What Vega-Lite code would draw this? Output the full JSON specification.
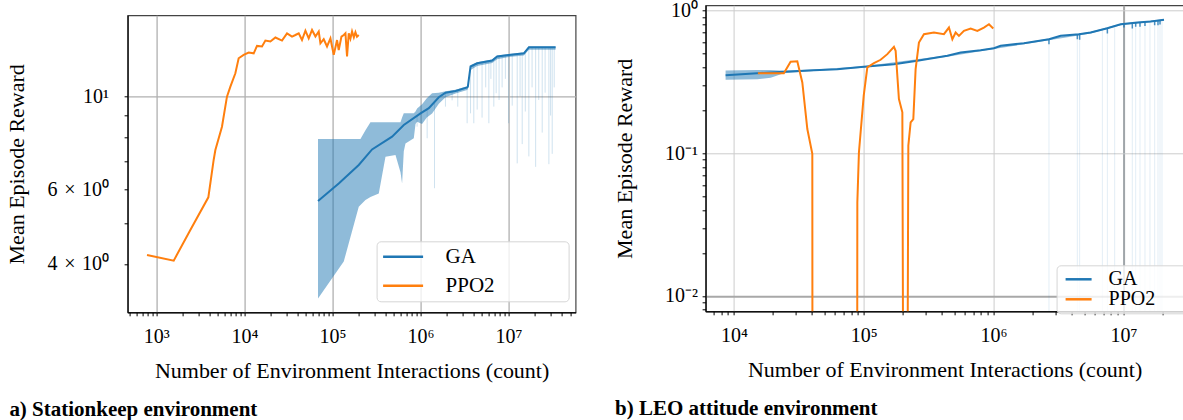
{
  "$schema": "https://vega.github.io/schema/vega-lite/v6.json",
  "background": "white",
  "padding": {"left": 4.6, "top": -0.7, "right": 0, "bottom": 0},
  "spacing": 36,
  "config": {
    "font": "Liberation Serif",
    "view": {"stroke": "#444", "strokeWidth": 1.2},
    "axis": {
      "labelFont": "Liberation Serif", "labelFontSize": 20, "labelColor": "#000",
      "titleFont": "Liberation Serif", "titleFontSize": 22, "titleFontWeight": "normal", "titleColor": "#000",
      "domainColor": "#000", "domainWidth": 1.2, "tickColor": "#000", "tickWidth": 1, "tickSize": 3.5,
      "labelOverlap": false, "labelFlush": false, "labelBound": false
    },
    "legend": {"labelFont": "Liberation Serif", "labelColor": "#000"}
  },
  "datasets": {
    "leftLine": [
      {"x": 68600, "y": 5.64, "s": "GA"}, {"x": 117900, "y": 6.21, "s": "GA"}, {"x": 199000, "y": 6.87, "s": "GA"}, {"x": 281800, "y": 7.48, "s": "GA"}, {"x": 475700, "y": 8.02, "s": "GA"}, {"x": 645900, "y": 8.55, "s": "GA"}, {"x": 1000000, "y": 9.11, "s": "GA"}, {"x": 1243000, "y": 9.37, "s": "GA"}, {"x": 1614000, "y": 9.95, "s": "GA"}, {"x": 1924000, "y": 10.2, "s": "GA"}, {"x": 2498000, "y": 10.29, "s": "GA"}, {"x": 3385000, "y": 10.5, "s": "GA"}, {"x": 3448000, "y": 10.54, "s": "GA"}, {"x": 3700000, "y": 11.77, "s": "GA"}, {"x": 4397000, "y": 11.98, "s": "GA"}, {"x": 6510000, "y": 12.16, "s": "GA"}, {"x": 7420000, "y": 12.43, "s": "GA"}, {"x": 10080000, "y": 12.54, "s": "GA"}, {"x": 14920000, "y": 12.65, "s": "GA"}, {"x": 17010000, "y": 13.07, "s": "GA"}, {"x": 34200000, "y": 13.07, "s": "GA"},
      {"x": 784, "y": 4.198, "s": "PPO2"}, {"x": 1576, "y": 4.072, "s": "PPO2"}, {"x": 2434, "y": 4.813, "s": "PPO2"}, {"x": 3898, "y": 5.756, "s": "PPO2"}, {"x": 4479, "y": 7.06, "s": "PPO2"}, {"x": 4683, "y": 7.455, "s": "PPO2"}, {"x": 5566, "y": 8.47, "s": "PPO2"}, {"x": 6342, "y": 9.98, "s": "PPO2"}, {"x": 6935, "y": 10.54, "s": "PPO2"}, {"x": 7900, "y": 11.34, "s": "PPO2"}, {"x": 8612, "y": 12.31, "s": "PPO2"}, {"x": 9817, "y": 12.54, "s": "PPO2"}, {"x": 11190, "y": 12.7, "s": "PPO2"}, {"x": 12760, "y": 12.65, "s": "PPO2"}, {"x": 13910, "y": 13.17, "s": "PPO2"}, {"x": 15850, "y": 13.13, "s": "PPO2"}, {"x": 17320, "y": 13.56, "s": "PPO2"}, {"x": 19750, "y": 13.49, "s": "PPO2"}, {"x": 22510, "y": 13.79, "s": "PPO2"}, {"x": 26750, "y": 13.56, "s": "PPO2"}, {"x": 30490, "y": 14.11, "s": "PPO2"}, {"x": 34750, "y": 13.86, "s": "PPO2"}, {"x": 37970, "y": 13.98, "s": "PPO2"}, {"x": 41400, "y": 14.11, "s": "PPO2"}, {"x": 45120, "y": 13.6, "s": "PPO2"}, {"x": 49340, "y": 14.32, "s": "PPO2"}, {"x": 53790, "y": 13.73, "s": "PPO2"}, {"x": 58640, "y": 14.37, "s": "PPO2"}, {"x": 64110, "y": 13.86, "s": "PPO2"}, {"x": 69880, "y": 14.25, "s": "PPO2"}, {"x": 73050, "y": 13.36, "s": "PPO2"}, {"x": 79630, "y": 13.66, "s": "PPO2"}, {"x": 86800, "y": 13.13, "s": "PPO2"}, {"x": 94910, "y": 13.73, "s": "PPO2"}, {"x": 98970, "y": 13.13, "s": "PPO2"}, {"x": 103500, "y": 12.54, "s": "PPO2"}, {"x": 112800, "y": 13.6, "s": "PPO2"}, {"x": 117900, "y": 12.88, "s": "PPO2"}, {"x": 126600, "y": 13.86, "s": "PPO2"}, {"x": 134400, "y": 13.98, "s": "PPO2"}, {"x": 140500, "y": 14.11, "s": "PPO2"}, {"x": 146500, "y": 12.43, "s": "PPO2"}, {"x": 153200, "y": 14.11, "s": "PPO2"}, {"x": 160000, "y": 13.7, "s": "PPO2"}, {"x": 167000, "y": 14.25, "s": "PPO2"}, {"x": 175000, "y": 13.8, "s": "PPO2"}, {"x": 182500, "y": 14.2, "s": "PPO2"}, {"x": 190000, "y": 13.85, "s": "PPO2"}, {"x": 199000, "y": 13.98, "s": "PPO2"}
    ],
    "leftBand": [
      {"x": 68600, "lo": 3.31, "hi": 7.92}, {"x": 134400, "lo": 4.05, "hi": 7.92}, {"x": 199000, "lo": 5.47, "hi": 7.92}, {"x": 208000, "lo": 5.52, "hi": 7.92}, {"x": 237100, "lo": 5.67, "hi": 8.3}, {"x": 270300, "lo": 5.77, "hi": 8.68}, {"x": 335900, "lo": 5.88, "hi": 8.68}, {"x": 400200, "lo": 7.19, "hi": 8.68}, {"x": 519900, "lo": 7.25, "hi": 8.68}, {"x": 592600, "lo": 6.6, "hi": 8.68}, {"x": 617900, "lo": 6.21, "hi": 8.9}, {"x": 645900, "lo": 7.4, "hi": 9.11}, {"x": 675300, "lo": 7.73, "hi": 9.11}, {"x": 839200, "lo": 7.95, "hi": 9.11}, {"x": 877500, "lo": 8.6, "hi": 9.2}, {"x": 915000, "lo": 8.7, "hi": 9.35}, {"x": 1042000, "lo": 8.6, "hi": 9.57}, {"x": 1179000, "lo": 8.9, "hi": 9.9}, {"x": 1354000, "lo": 9.1, "hi": 10.17}, {"x": 1614000, "lo": 9.6, "hi": 10.2}, {"x": 1924000, "lo": 9.95, "hi": 10.28}, {"x": 2498000, "lo": 10.15, "hi": 10.36}, {"x": 3385000, "lo": 10.35, "hi": 10.56}, {"x": 3448000, "lo": 10.4, "hi": 10.6}, {"x": 3700000, "lo": 11.55, "hi": 11.85}, {"x": 4397000, "lo": 11.8, "hi": 12.05}, {"x": 6510000, "lo": 12.0, "hi": 12.22}, {"x": 7420000, "lo": 12.25, "hi": 12.5}, {"x": 10080000, "lo": 12.4, "hi": 12.6}, {"x": 14920000, "lo": 12.5, "hi": 12.7}, {"x": 17010000, "lo": 12.9, "hi": 13.12}, {"x": 34200000, "lo": 12.9, "hi": 13.12}
    ],
    "leftSpikes": [
      {"x": 915000, "lo": 8.47, "hi": 9.0}, {"x": 1190000, "lo": 7.95, "hi": 9.3}, {"x": 1442000, "lo": 6.05, "hi": 9.7}, {"x": 1920000, "lo": 9.45, "hi": 10.2}, {"x": 2286000, "lo": 9.78, "hi": 10.27}, {"x": 2650000, "lo": 9.45, "hi": 10.32}, {"x": 3385000, "lo": 8.63, "hi": 10.5}, {"x": 3700000, "lo": 9.11, "hi": 11.77}, {"x": 4030000, "lo": 8.63, "hi": 11.9}, {"x": 4400000, "lo": 9.3, "hi": 11.98}, {"x": 5000000, "lo": 8.9, "hi": 12.05}, {"x": 5500000, "lo": 10.5, "hi": 12.1}, {"x": 5970000, "lo": 8.63, "hi": 12.12}, {"x": 6300000, "lo": 11.0, "hi": 12.15}, {"x": 6800000, "lo": 9.45, "hi": 12.2}, {"x": 7230000, "lo": 10.17, "hi": 12.4}, {"x": 7800000, "lo": 9.8, "hi": 12.45}, {"x": 8450000, "lo": 10.5, "hi": 12.5}, {"x": 9200000, "lo": 11.0, "hi": 12.52}, {"x": 10000000, "lo": 8.63, "hi": 12.54}, {"x": 11000000, "lo": 9.5, "hi": 12.58}, {"x": 12530000, "lo": 6.93, "hi": 12.6}, {"x": 13500000, "lo": 10.0, "hi": 12.62}, {"x": 14290000, "lo": 7.7, "hi": 12.63}, {"x": 15500000, "lo": 9.2, "hi": 12.7}, {"x": 17000000, "lo": 7.2, "hi": 13.07}, {"x": 18500000, "lo": 10.5, "hi": 13.07}, {"x": 20300000, "lo": 6.8, "hi": 13.07}, {"x": 22000000, "lo": 9.8, "hi": 13.07}, {"x": 24100000, "lo": 8.2, "hi": 13.07}, {"x": 26000000, "lo": 10.2, "hi": 13.07}, {"x": 28700000, "lo": 6.9, "hi": 13.07}, {"x": 30000000, "lo": 9.0, "hi": 13.07}, {"x": 31300000, "lo": 7.3, "hi": 13.07}, {"x": 33000000, "lo": 10.5, "hi": 13.07}
    ],
    "rightLine": [
      {"x": 8630, "y": 0.3528, "s": "GA"}, {"x": 15140, "y": 0.3642, "s": "GA"}, {"x": 24250, "y": 0.3726, "s": "GA"}, {"x": 41330, "y": 0.3824, "s": "GA"}, {"x": 62600, "y": 0.3886, "s": "GA"}, {"x": 100000, "y": 0.4039, "s": "GA"}, {"x": 170900, "y": 0.4211, "s": "GA"}, {"x": 258800, "y": 0.4447, "s": "GA"}, {"x": 440600, "y": 0.4821, "s": "GA"}, {"x": 558000, "y": 0.5083, "s": "GA"}, {"x": 795500, "y": 0.5277, "s": "GA"}, {"x": 1007000, "y": 0.5449, "s": "GA"}, {"x": 1134000, "y": 0.5663, "s": "GA"}, {"x": 1715000, "y": 0.5906, "s": "GA"}, {"x": 2672000, "y": 0.63, "s": "GA"}, {"x": 3289000, "y": 0.6652, "s": "GA"}, {"x": 4549000, "y": 0.6827, "s": "GA"}, {"x": 5598000, "y": 0.7019, "s": "GA"}, {"x": 7528000, "y": 0.7519, "s": "GA"}, {"x": 9530000, "y": 0.8021, "s": "GA"}, {"x": 12820000, "y": 0.8243, "s": "GA"}, {"x": 16230000, "y": 0.8378, "s": "GA"}, {"x": 20550000, "y": 0.861, "s": "GA"},
      {"x": 15300, "y": 0.3642, "s": "PPO2"}, {"x": 24250, "y": 0.3642, "s": "PPO2"}, {"x": 27340, "y": 0.4378, "s": "PPO2"}, {"x": 30790, "y": 0.4418, "s": "PPO2"}, {"x": 33650, "y": 0.3136, "s": "PPO2"}, {"x": 36780, "y": 0.1479, "s": "PPO2"}, {"x": 40180, "y": 0.0989, "s": "PPO2"}, {"x": 40300, "y": 0.001, "s": "PPO2"}, {"x": 89000, "y": 0.001, "s": "PPO2"}, {"x": 89290, "y": 0.0454, "s": "PPO2"}, {"x": 91850, "y": 0.1016, "s": "PPO2"}, {"x": 100000, "y": 0.2532, "s": "PPO2"}, {"x": 106600, "y": 0.3993, "s": "PPO2"}, {"x": 119900, "y": 0.428, "s": "PPO2"}, {"x": 134950, "y": 0.452, "s": "PPO2"}, {"x": 152000, "y": 0.495, "s": "PPO2"}, {"x": 170900, "y": 0.5574, "s": "PPO2"}, {"x": 176100, "y": 0.5229, "s": "PPO2"}, {"x": 186700, "y": 0.2397, "s": "PPO2"}, {"x": 198400, "y": 0.1935, "s": "PPO2"}, {"x": 201800, "y": 0.001, "s": "PPO2"}, {"x": 216700, "y": 0.001, "s": "PPO2"}, {"x": 220600, "y": 0.1132, "s": "PPO2"}, {"x": 229800, "y": 0.1647, "s": "PPO2"}, {"x": 241000, "y": 0.1737, "s": "PPO2"}, {"x": 251000, "y": 0.3886, "s": "PPO2"}, {"x": 266200, "y": 0.5973, "s": "PPO2"}, {"x": 290900, "y": 0.683, "s": "PPO2"}, {"x": 347300, "y": 0.7019, "s": "PPO2"}, {"x": 414800, "y": 0.683, "s": "PPO2"}, {"x": 453400, "y": 0.7604, "s": "PPO2"}, {"x": 481600, "y": 0.63, "s": "PPO2"}, {"x": 510500, "y": 0.7019, "s": "PPO2"}, {"x": 541300, "y": 0.665, "s": "PPO2"}, {"x": 591500, "y": 0.7213, "s": "PPO2"}, {"x": 666300, "y": 0.7483, "s": "PPO2"}, {"x": 750400, "y": 0.7213, "s": "PPO2"}, {"x": 843000, "y": 0.7604, "s": "PPO2"}, {"x": 921800, "y": 0.802, "s": "PPO2"}, {"x": 995000, "y": 0.7483, "s": "PPO2"}
    ],
    "rightBand": [
      {"x": 8630, "lo": 0.3275, "hi": 0.38}, {"x": 15140, "lo": 0.33, "hi": 0.383}, {"x": 19200, "lo": 0.338, "hi": 0.383}, {"x": 24250, "lo": 0.364, "hi": 0.379}, {"x": 41330, "lo": 0.377, "hi": 0.387}, {"x": 100000, "lo": 0.398, "hi": 0.408}, {"x": 440600, "lo": 0.475, "hi": 0.487}, {"x": 1007000, "lo": 0.537, "hi": 0.551}, {"x": 2672000, "lo": 0.62, "hi": 0.637}, {"x": 5598000, "lo": 0.69, "hi": 0.71}, {"x": 9530000, "lo": 0.79, "hi": 0.81}, {"x": 20550000, "lo": 0.848, "hi": 0.87}
    ],
    "rightSpikes": [
      {"x": 2672000, "lo": 0.001, "hi": 0.63}, {"x": 4420000, "lo": 0.001, "hi": 0.68}, {"x": 4605000, "lo": 0.001, "hi": 0.683}, {"x": 6890000, "lo": 0.001, "hi": 0.73}, {"x": 7530000, "lo": 0.001, "hi": 0.75}, {"x": 8570000, "lo": 0.001, "hi": 0.78}, {"x": 10110000, "lo": 0.001, "hi": 0.8}, {"x": 11720000, "lo": 0.001, "hi": 0.81}, {"x": 12440000, "lo": 0.001, "hi": 0.82}, {"x": 13430000, "lo": 0.001, "hi": 0.826}, {"x": 14670000, "lo": 0.001, "hi": 0.83}, {"x": 16030000, "lo": 0.001, "hi": 0.837}, {"x": 17420000, "lo": 0.001, "hi": 0.845}, {"x": 18480000, "lo": 0.001, "hi": 0.85}, {"x": 19150000, "lo": 0.001, "hi": 0.855}, {"x": 19840000, "lo": 0.001, "hi": 0.86}
    ],
    "rightDips": [
      {"x": 2672000, "lo": 0.58, "hi": 0.63}, {"x": 4420000, "lo": 0.63, "hi": 0.68}, {"x": 4605000, "lo": 0.625, "hi": 0.683}, {"x": 7530000, "lo": 0.69, "hi": 0.75}, {"x": 10110000, "lo": 0.76, "hi": 0.8}, {"x": 11720000, "lo": 0.75, "hi": 0.81}, {"x": 12440000, "lo": 0.77, "hi": 0.82}, {"x": 13430000, "lo": 0.77, "hi": 0.826}, {"x": 14670000, "lo": 0.78, "hi": 0.83}, {"x": 17420000, "lo": 0.79, "hi": 0.845}, {"x": 18480000, "lo": 0.79, "hi": 0.85}, {"x": 19150000, "lo": 0.8, "hi": 0.855}
    ],
    "empty": []
  },
  "hconcat": [
    {
      "title": {"text": "a) Stationkeep environment", "orient": "bottom", "anchor": "start", "frame": "bounds", "font": "Liberation Serif", "fontSize": 21, "fontWeight": "bold", "color": "#000", "offset": 17, "dx": 4},
      "spacing": 0,
      "vconcat": [
        {
          "width": 448,
          "height": 9,
          "view": {"stroke": null},
          "data": {"name": "empty"},
          "mark": "point"
        },
        {
          "width": 448,
          "height": 297,
          "layer": [
            {
              "data": {"name": "leftBand"},
              "mark": {"type": "area", "color": "#1f77b4", "opacity": 0.5, "clip": true},
              "encoding": {
                "x": {"field": "x", "type": "quantitative", "scale": {"type": "log", "domain": [472, 57700000], "nice": false},
                  "axis": {"title": "Number of Environment Interactions (count)", "values": [500,600,700,800,900,1000,2000,3000,4000,5000,6000,7000,8000,9000,10000,20000,30000,40000,50000,60000,70000,80000,90000,100000,200000,300000,400000,500000,600000,700000,800000,900000,1000000,2000000,3000000,4000000,5000000,6000000,7000000,8000000,9000000,10000000,20000000,30000000,40000000,50000000],
                    "labelExpr": "datum.value===1000?'10³':datum.value===10000?'10⁴':datum.value===100000?'10⁵':datum.value===1000000?'10⁶':datum.value===10000000?'10⁷':''",
                    "gridOpacity": {"condition": {"test": "indexof([1000,10000,100000,1000000,10000000], datum.value) >= 0", "value": 1}, "value": 0},
                    "grid": true, "gridColor": "#b0b0b0", "gridWidth": 1.3, "labelPadding": 11, "titlePadding": 14}},
                "y": {"field": "lo", "type": "quantitative", "scale": {"type": "log", "domain": [3.07, 15.57], "nice": false},
                  "axis": {"title": "Mean Episode Reward", "values": [4,5,6,7,8,9,10],
                    "labelExpr": "datum.value===4?'4\u2004×\u200410⁰':datum.value===6?'6\u2004×\u200410⁰':datum.value===10?'10¹':''",
                    "gridOpacity": {"condition": {"test": "datum.value===10", "value": 1}, "value": 0},
                    "grid": true, "gridColor": "#b0b0b0", "gridWidth": 1.3, "labelPadding": 15.5, "titlePadding": 18}},
                "y2": {"field": "hi"}
              }
            },
            {
              "data": {"name": "leftSpikes"},
              "mark": {"type": "rule", "color": "#1f77b4", "opacity": 0.22, "strokeWidth": 1, "clip": true},
              "encoding": {
                "x": {"field": "x", "type": "quantitative", "scale": {"type": "log", "domain": [472, 57700000], "nice": false}, "title": "Number of Environment Interactions (count)"},
                "y": {"field": "lo", "type": "quantitative", "scale": {"type": "log", "domain": [3.07, 15.57], "nice": false}, "title": "Mean Episode Reward"},
                "y2": {"field": "hi"}
              }
            },
            {
              "data": {"name": "leftLine"},
              "mark": {"type": "line", "strokeWidth": 2, "clip": true},
              "encoding": {
                "x": {"field": "x", "type": "quantitative", "scale": {"type": "log", "domain": [472, 57700000], "nice": false}, "title": "Number of Environment Interactions (count)"},
                "y": {"field": "y", "type": "quantitative", "scale": {"type": "log", "domain": [3.07, 15.57], "nice": false}, "title": "Mean Episode Reward"},
                "color": {"field": "s", "type": "nominal", "scale": {"domain": ["GA", "PPO2"], "range": ["#1f77b4", "#ff7f0e"]},
                  "legend": {"title": null, "orient": "none", "legendX": 249, "legendY": 226, "labelFontSize": 21, "symbolType": "M-4,0H4", "symbolSize": 100, "symbolStrokeWidth": 2.5, "symbolOffset": 11, "labelOffset": 32, "padding": 5, "rowPadding": 7, "fillColor": "rgba(255,255,255,0.8)", "strokeColor": "#d5d5d5", "cornerRadius": 4,
                    "labelExpr": "datum.label === 'PPO2' ? 'PPO2\u00a0\u00a0\u00a0\u00a0\u00a0\u00a0\u00a0\u00a0\u00a0\u00a0\u00a0\u00a0\u00a0\u200b' : datum.label"}}
              }
            }
          ]
        }
      ],
      "resolve": {"scale": {"color": "independent"}, "legend": {"color": "independent"}}
    },
    {
      "title": {"text": "b) LEO attitude environment", "orient": "bottom", "anchor": "start", "frame": "bounds", "font": "Liberation Serif", "fontSize": 21, "fontWeight": "bold", "color": "#000", "offset": 17, "dx": 2},
      "vconcat": [
        {
          "width": 478,
          "height": 306,
          "layer": [
            {
              "data": {"name": "rightBand"},
              "mark": {"type": "area", "color": "#1f77b4", "opacity": 0.5, "clip": true},
              "encoding": {
                "x": {"field": "x", "type": "quantitative", "scale": {"type": "log", "domain": [6053, 29100000], "nice": false},
                  "axis": {"title": "Number of Environment Interactions (count)", "values": [7000,8000,9000,10000,20000,30000,40000,50000,60000,70000,80000,90000,100000,200000,300000,400000,500000,600000,700000,800000,900000,1000000,2000000,3000000,4000000,5000000,6000000,7000000,8000000,9000000,10000000,20000000],
                    "labelExpr": "datum.value===10000?'10⁴':datum.value===100000?'10⁵':datum.value===1000000?'10⁶':datum.value===10000000?'10⁷':''",
                    "gridOpacity": {"condition": {"test": "indexof([10000,100000,1000000,10000000], datum.value) >= 0", "value": 1}, "value": 0},
                    "gridColor": {"condition": {"test": "datum.value===10000000", "value": "#a8a8a8"}, "value": "#cccccc"},
                    "gridWidth": {"condition": {"test": "datum.value===10000000", "value": 2}, "value": 1},
                    "grid": true, "labelPadding": 11, "titlePadding": 14}},
                "y": {"field": "lo", "type": "quantitative", "scale": {"type": "log", "domain": [0.0078, 1.089], "nice": false},
                  "axis": {"title": "Mean Episode Reward", "values": [0.008,0.009,0.01,0.02,0.03,0.04,0.05,0.06,0.07,0.08,0.09,0.1,0.2,0.3,0.4,0.5,0.6,0.7,0.8,0.9,1],
                    "labelExpr": "datum.value===1?'10⁰':datum.value===0.1?'10⁻¹':datum.value===0.01?'10⁻²':''",
                    "gridOpacity": {"condition": {"test": "indexof([0.01,0.1,1], datum.value) >= 0", "value": 1}, "value": 0},
                    "gridColor": {"condition": {"test": "datum.value===0.01", "value": "#a8a8a8"}, "value": "#cccccc"},
                    "gridWidth": {"condition": {"test": "datum.value===0.01", "value": 2}, "value": 1},
                    "grid": true, "labelPadding": 4.5, "titlePadding": 28}},
                "y2": {"field": "hi"}
              }
            },
            {
              "data": {"name": "rightSpikes"},
              "mark": {"type": "rule", "color": "#1f77b4", "opacity": 0.13, "strokeWidth": 1, "clip": true},
              "encoding": {
                "x": {"field": "x", "type": "quantitative", "scale": {"type": "log", "domain": [6053, 29100000], "nice": false}, "title": "Number of Environment Interactions (count)"},
                "y": {"field": "lo", "type": "quantitative", "scale": {"type": "log", "domain": [0.0078, 1.089], "nice": false}, "title": "Mean Episode Reward"},
                "y2": {"field": "hi"}
              }
            },
            {
              "data": {"name": "rightDips"},
              "mark": {"type": "rule", "color": "#1f77b4", "opacity": 0.8, "strokeWidth": 1.5, "clip": true},
              "encoding": {
                "x": {"field": "x", "type": "quantitative", "scale": {"type": "log", "domain": [6053, 29100000], "nice": false}, "title": "Number of Environment Interactions (count)"},
                "y": {"field": "lo", "type": "quantitative", "scale": {"type": "log", "domain": [0.0078, 1.089], "nice": false}, "title": "Mean Episode Reward"},
                "y2": {"field": "hi"}
              }
            },
            {
              "data": {"name": "rightLine"},
              "mark": {"type": "line", "strokeWidth": 2, "clip": true},
              "encoding": {
                "x": {"field": "x", "type": "quantitative", "scale": {"type": "log", "domain": [6053, 29100000], "nice": false}, "title": "Number of Environment Interactions (count)"},
                "y": {"field": "y", "type": "quantitative", "scale": {"type": "log", "domain": [0.0078, 1.089], "nice": false}, "title": "Mean Episode Reward"},
                "color": {"field": "s", "type": "nominal", "scale": {"domain": ["GA", "PPO2"], "range": ["#1f77b4", "#ff7f0e"]},
                  "legend": {"title": null, "orient": "none", "legendX": 351, "legendY": 260, "labelFontSize": 20, "symbolType": "M-2.6,0H2.6", "symbolSize": 100, "symbolStrokeWidth": 2.5, "symbolOffset": 8, "labelOffset": 20, "padding": 4, "rowPadding": 0, "fillColor": "rgba(255,255,255,0.8)", "strokeColor": "#d5d5d5", "cornerRadius": 4,
                    "labelExpr": "datum.label === 'PPO2' ? 'PPO2\u00a0\u00a0\u00a0\u00a0\u00a0\u00a0\u200b' : datum.label"}}
              }
            }
          ]
        }
      ],
      "resolve": {"scale": {"color": "independent"}, "legend": {"color": "independent"}}
    }
  ],
  "resolve": {"scale": {"color": "independent"}, "legend": {"color": "independent"}}
}
